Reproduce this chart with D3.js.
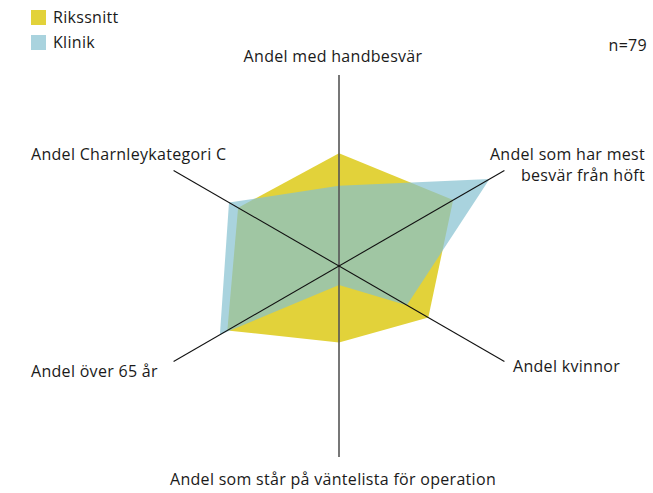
<!DOCTYPE html>
<html>
<head>
<meta charset="utf-8">
<script src="https://cdn.jsdelivr.net/npm/d3@7"></script>
<style>
  body { margin: 0; background: #fff; }
  svg text { font-family: "Open Sans", "Noto Sans", sans-serif; font-size: 16px; letter-spacing: 0.3px; fill: #1a1a1a; }
</style>
</head>
<body>
<svg id="chart" width="653" height="493"></svg>
<script>
const axes = [
  "Andel med handbesvär",
  "Andel som har mest besvär från höft",
  "Andel kvinnor",
  "Andel som står på väntelista för operation",
  "Andel över 65 år",
  "Andel Charnleykategori C"
];
const rikssnitt = [0.59, 0.69, 0.54, 0.40, 0.675, 0.61];
const klinik = [0.42, 0.91, 0.41, 0.10, 0.72, 0.665];
const seriesNames = ["Rikssnitt", "Klinik"];
const nLabel = "n=79";

const svg = d3.select("#chart");
const cx = 339, cy = 266;
const r = d3.scaleLinear().domain([0, 1]).range([0, 191]);
const angle = i => i * Math.PI / 3;

const g = svg.append("g").attr("transform", `translate(${cx},${cy})`);

const radial = d3.lineRadial()
  .angle((d, i) => angle(i))
  .radius(d => r(d))
  .curve(d3.curveLinearClosed);

g.append("path").attr("d", radial(rikssnitt)).attr("fill", "#e2d23a");
g.append("path").attr("d", radial(klinik)).attr("fill", "#84c0d0").attr("fill-opacity", 0.7);

// axis lines, each one through the centre
for (let i = 0; i < 3; i++) {
  const a = angle(i);
  const x = Math.sin(a) * r(1), y = -Math.cos(a) * r(1);
  g.append("line")
    .attr("x1", x).attr("y1", y).attr("x2", -x).attr("y2", -y)
    .attr("stroke", i === 0 ? "#555" : "#111")
    .attr("stroke-width", i === 0 ? 1.6 : 1.1);
}

// axis labels
const labels = [
  { lines: [axes[0]], x: 333, y: 62, anchor: "middle" },
  { lines: ["Andel som har mest", "besvär från höft"], x: 645, y: 160, anchor: "end" },
  { lines: [axes[2]], x: 513, y: 372, anchor: "start" },
  { lines: [axes[3]], x: 333, y: 485, anchor: "middle" },
  { lines: [axes[4]], x: 31, y: 377, anchor: "start" },
  { lines: [axes[5]], x: 31, y: 160, anchor: "start" }
];
labels.forEach(l => {
  const t = svg.append("text").attr("x", l.x).attr("y", l.y).attr("text-anchor", l.anchor);
  l.lines.forEach((s, k) => t.append("tspan").attr("x", l.x).attr("dy", k ? 21 : 0).text(s));
});

// legend
const legendColors = ["#e2d23a", "#a9d3de"];
seriesNames.forEach((s, i) => {
  svg.append("rect").attr("x", 31).attr("y", 10 + i * 25).attr("width", 15).attr("height", 15)
    .attr("fill", legendColors[i]);
  svg.append("text").attr("x", 53).attr("y", 23 + i * 25).text(s);
});

svg.append("text").attr("x", 647).attr("y", 51).attr("text-anchor", "end").text(nLabel);
</script>
</body>
</html>
